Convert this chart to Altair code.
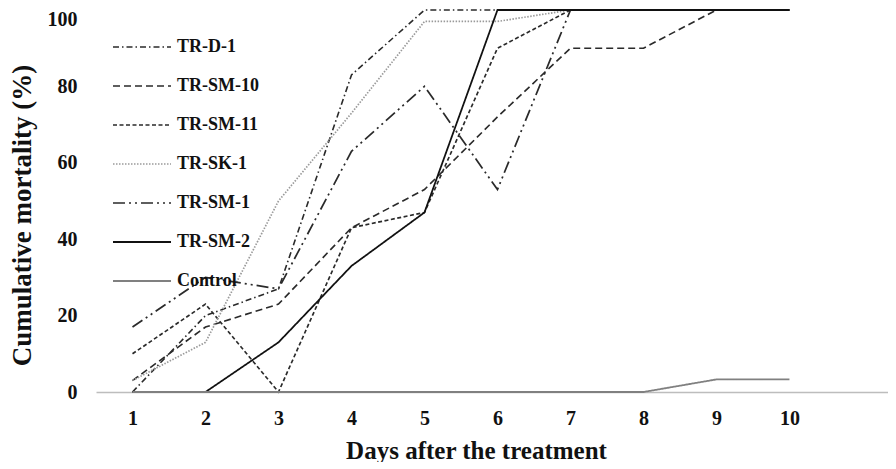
import altair as alt
import pandas as pd

days = [1, 2, 3, 4, 5, 6, 7, 8, 9, 10]
series_names = ["TR-D-1", "TR-SM-10", "TR-SM-11", "TR-SK-1", "TR-SM-1", "TR-SM-2", "Control"]

tr_d_1 = [0, 20, 27, 83, 100, 100, 100, 100, 100, 100]
tr_sm_10 = [3, 17, 23, 43, 53, 72, 90, 90, 100, 100]
tr_sm_11 = [10, 23, 0, 43, 47, 90, 100, 100, 100, 100]
tr_sk_1 = [3, 13, 50, 73, 97, 97, 100, 100, 100, 100]
tr_sm_1 = [17, 30, 27, 63, 80, 53, 100, 100, 100, 100]
tr_sm_2 = [0, 0, 13, 33, 47, 100, 100, 100, 100, 100]
control = [0, 0, 0, 0, 0, 0, 0, 0, 3.3, 3.3]

all_values = [tr_d_1, tr_sm_10, tr_sm_11, tr_sk_1, tr_sm_1, tr_sm_2, control]

rows = []
for name, vals in zip(series_names, all_values):
    for d, v in zip(days, vals):
        rows.append({"Day": d, "Series": name, "Mortality": v})
df = pd.DataFrame(rows)

colors = ["#2a2a2a", "#2a2a2a", "#2a2a2a", "#9a9a9a", "#2a2a2a", "#111111", "#808080"]
dashes = [[6, 3, 1.5, 3], [7, 4], [4, 2.5], [1.5, 1.5], [12, 4, 2, 4, 2, 4], [1, 0], [1, 0]]
widths = [1.6, 1.8, 1.8, 1.2, 1.8, 1.6, 3.0]

font = "Liberation Serif"

legend = alt.Legend(
    orient="none", legendX=16, legendY=7, title=None,
    symbolType="stroke", symbolSize=3364, rowPadding=-16.7,
    labelFont=font, labelFontSize=18, labelFontWeight="bold", labelColor="#111",
    labelOffset=5,
)

chart = alt.Chart(df).mark_line().encode(
    x=alt.X("Day:Q", scale=alt.Scale(domain=[0.5, 11.35], nice=False, zero=False),
            axis=alt.Axis(values=days, title="Days after the treatment", grid=False, ticks=False,
                          domainColor="#bdbdbd", domainWidth=1.5,
                          labelFont=font, labelFontSize=20, labelFontWeight="bold", labelColor="#111",
                          labelPadding=16,
                          titleFont=font, titleFontSize=25, titleFontWeight="bold", titleColor="#111",
                          titleX=380, titleY=66, titleBaseline="alphabetic", titleAnchor="start", titleAlign="center")),
    y=alt.Y("Mortality:Q", scale=alt.Scale(domain=[0, 100], nice=False),
            axis=alt.Axis(values=[0, 20, 40, 60, 80, 100], title="Cumulative mortality (%)",
                          grid=False, ticks=False, domain=False,
                          labelFont=font, labelFontSize=20, labelFontWeight="bold", labelColor="#111",
                          labelPadding=19,
                          labelOffset=alt.condition("datum.value == 100", alt.value(9), alt.value(0)),
                          titleFont=font, titleFontSize=27, titleFontWeight="bold", titleColor="#111",
                          titleX=-74, titleY=205, titleAngle=270, titleAlign="center", titleBaseline="middle")),
    color=alt.Color("Series:N", scale=alt.Scale(domain=series_names, range=colors), sort=series_names, legend=legend),
    strokeDash=alt.StrokeDash("Series:N", scale=alt.Scale(domain=series_names, range=dashes), sort=series_names, legend=legend),
    strokeWidth=alt.StrokeWidth("Series:N", scale=alt.Scale(domain=series_names, range=widths), sort=series_names, legend=legend),
).properties(
    width=792, height=382,
    autosize=alt.AutoSizeParams(type="none"),
    padding={"left": 88, "top": 2, "right": 0, "bottom": 70},
).configure_view(stroke=None)

chart.save("out.html", embed_options={"renderer": "svg", "actions": False})
